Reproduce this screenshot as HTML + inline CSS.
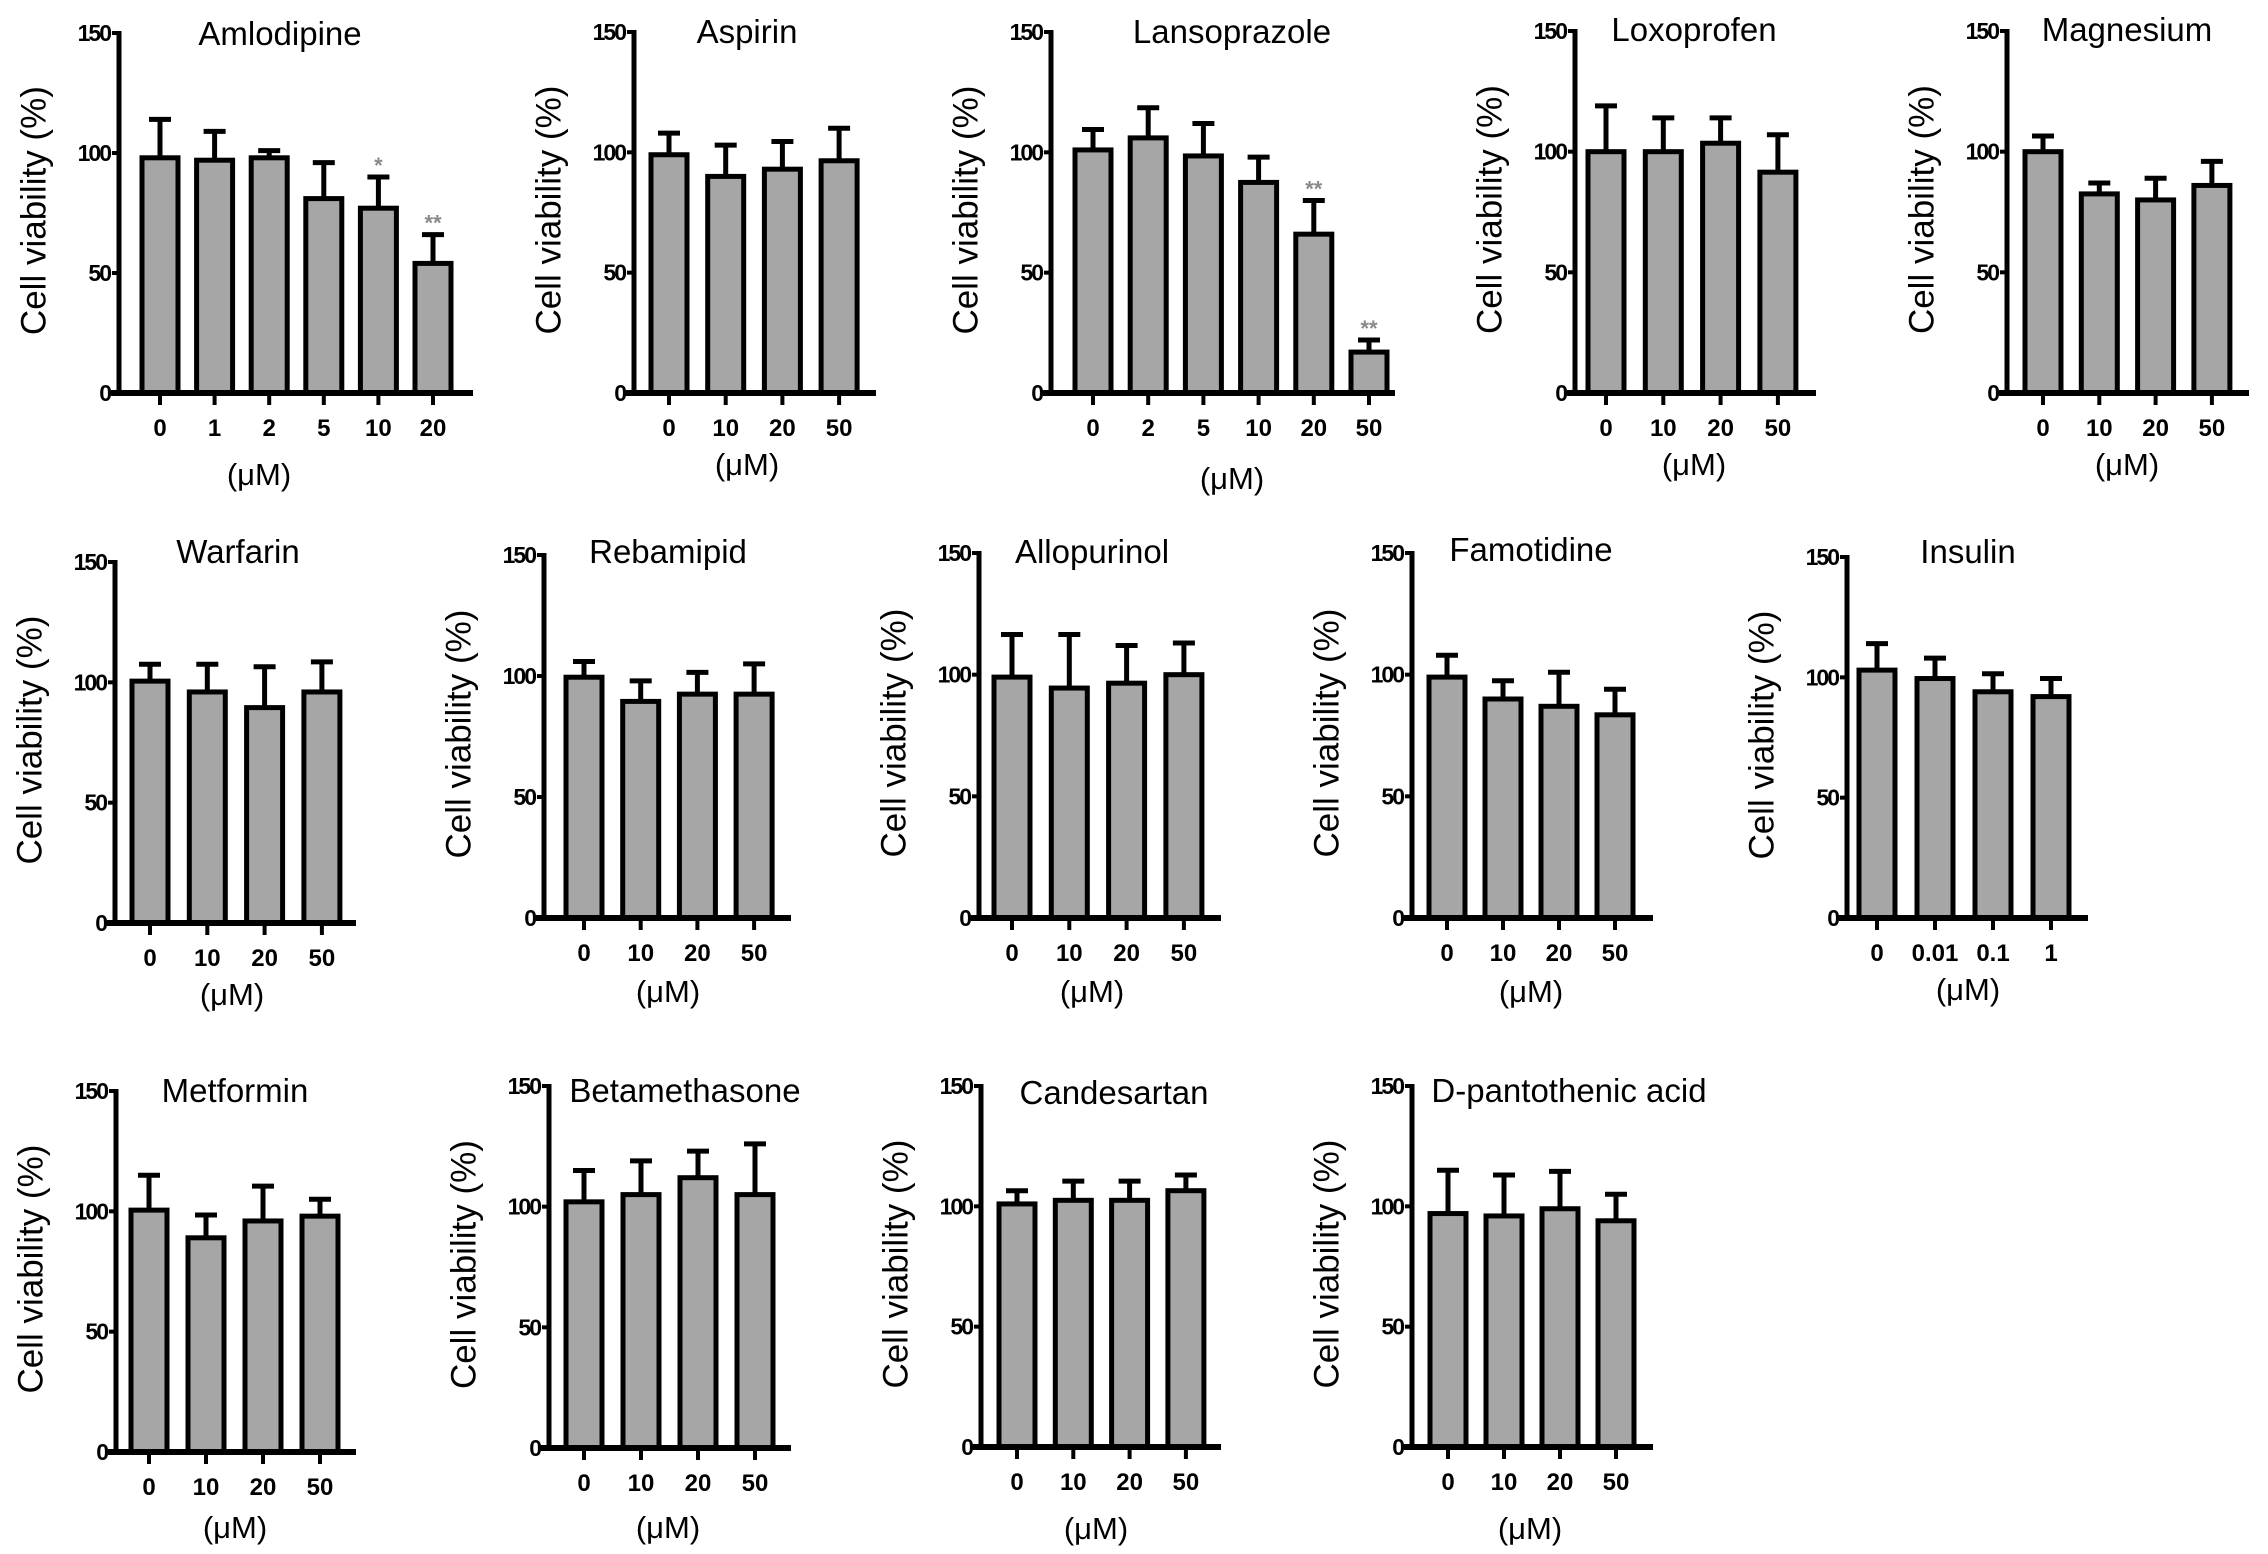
<!DOCTYPE html>
<html><head><meta charset="utf-8"><style>
html,body{margin:0;padding:0;background:#fff;}
svg{display:block;}
text{font-family:"Liberation Sans",Arial,sans-serif;fill:#000;}
</style></head><body>
<svg id="fig" width="2268" height="1554" viewBox="0 0 2268 1554" xmlns="http://www.w3.org/2000/svg"></svg>
<script>
// ---- data ----
const amlodipineDoses = ["0","1","2","5","10","20"];
const amlodipineMeans = [98,97,98,81,77,54];
const amlodipineErrTop = [114,109,101,96,90,66];
const amlodipineStars = ["","","","","*","**"];

const aspirinDoses = ["0","10","20","50"];
const aspirinMeans = [99,90,93,96.5];
const aspirinErrTop = [108,103,104.5,110];

const lansoprazoleDoses = ["0","2","5","10","20","50"];
const lansoprazoleMeans = [101,106,98.5,87.5,66,17];
const lansoprazoleErrTop = [109.5,118.5,112,98,80,22];
const lansoprazoleStars = ["","","","","**","**"];

const loxoprofenDoses = ["0","10","20","50"];
const loxoprofenMeans = [100,100,103.5,91.5];
const loxoprofenErrTop = [119,114,114,107];

const magnesiumDoses = ["0","10","20","50"];
const magnesiumMeans = [100,82.5,80,86];
const magnesiumErrTop = [106.5,87,89,96];

const warfarinDoses = ["0","10","20","50"];
const warfarinMeans = [100.5,96,89.5,96];
const warfarinErrTop = [107.5,107.5,106.5,108.5];

const rebamipidDoses = ["0","10","20","50"];
const rebamipidMeans = [99.5,89.5,92.5,92.5];
const rebamipidErrTop = [106,98,101.5,105];

const allopurinolDoses = ["0","10","20","50"];
const allopurinolMeans = [99,94.5,96.5,100];
const allopurinolErrTop = [116.5,116.5,112,113];

const famotidineDoses = ["0","10","20","50"];
const famotidineMeans = [99,90,87,83.5];
const famotidineErrTop = [108,97.5,101,94];

const insulinDoses = ["0","0.01","0.1","1"];
const insulinMeans = [103,99.5,94,92];
const insulinErrTop = [114,108,101.5,99.5];

const metforminDoses = ["0","10","20","50"];
const metforminMeans = [100.5,89,96,98];
const metforminErrTop = [115,98.5,110.5,105];

const betamethasoneDoses = ["0","10","20","50"];
const betamethasoneMeans = [102,105,112,105];
const betamethasoneErrTop = [115,119,123,126];

const candesartanDoses = ["0","10","20","50"];
const candesartanMeans = [101,102.5,102.5,106.5];
const candesartanErrTop = [106.5,110.5,110.5,113];

const pantothenicDoses = ["0","10","20","50"];
const pantothenicMeans = [97,96,99,94];
const pantothenicErrTop = [115,113,114.5,105];

const yTicks = [0,50,100,150];
const yMax = 150;

// ---- layout ----
const panels = [
 {id:"amlodipine",title:"Amlodipine",cats:amlodipineDoses,vals:amlodipineMeans,err:amlodipineErrTop,stars:amlodipineStars,ax:119,top:33,zero:393,end:473,x0:160,step:54.6,tx:280,ty:45,ux:259,uy:80},
 {id:"aspirin",title:"Aspirin",cats:aspirinDoses,vals:aspirinMeans,err:aspirinErrTop,ax:634,top:32,zero:393,end:876,x0:669,step:56.7,tx:747,ty:43,uy:70},
 {id:"lansoprazole",title:"Lansoprazole",cats:lansoprazoleDoses,vals:lansoprazoleMeans,err:lansoprazoleErrTop,stars:lansoprazoleStars,ax:1051,top:32,zero:393,end:1395,x0:1093,step:55.2,tx:1232,ty:43,uy:84},
 {id:"loxoprofen",title:"Loxoprofen",cats:loxoprofenDoses,vals:loxoprofenMeans,err:loxoprofenErrTop,ax:1575,top:31,zero:393,end:1816,x0:1606,step:57.3,tx:1694,ty:41,uy:70},
 {id:"magnesium",title:"Magnesium",cats:magnesiumDoses,vals:magnesiumMeans,err:magnesiumErrTop,ax:2007,top:31,zero:393,end:2249,x0:2043,step:56.3,tx:2127,ty:41,uy:70},
 {id:"warfarin",title:"Warfarin",cats:warfarinDoses,vals:warfarinMeans,err:warfarinErrTop,ax:115,top:562,zero:923,end:356,x0:150,step:57.3,tx:238,ty:563,ux:232,uy:70},
 {id:"rebamipid",title:"Rebamipid",cats:rebamipidDoses,vals:rebamipidMeans,err:rebamipidErrTop,ax:544,top:555,zero:918,end:791,x0:584,step:56.7,tx:668,ty:563,uy:72},
 {id:"allopurinol",title:"Allopurinol",cats:allopurinolDoses,vals:allopurinolMeans,err:allopurinolErrTop,ax:979,top:553,zero:918,end:1221,x0:1012,step:57.3,tx:1092,ty:563,uy:72},
 {id:"famotidine",title:"Famotidine",cats:famotidineDoses,vals:famotidineMeans,err:famotidineErrTop,ax:1412,top:553,zero:918,end:1653,x0:1447,step:56,tx:1531,ty:561,uy:72},
 {id:"insulin",title:"Insulin",cats:insulinDoses,vals:insulinMeans,err:insulinErrTop,ax:1847,top:557,zero:918,end:2088,x0:1877,step:58,tx:1968,ty:563,uy:70},
 {id:"metformin",title:"Metformin",cats:metforminDoses,vals:metforminMeans,err:metforminErrTop,ax:116,top:1091,zero:1452,end:356,x0:149,step:57,tx:235,ty:1102,uy:74},
 {id:"betamethasone",title:"Betamethasone",cats:betamethasoneDoses,vals:betamethasoneMeans,err:betamethasoneErrTop,ax:549,top:1086,zero:1448,end:791,x0:584,step:57,tx:685,ty:1102,ux:668,uy:78},
 {id:"candesartan",title:"Candesartan",cats:candesartanDoses,vals:candesartanMeans,err:candesartanErrTop,ax:981,top:1086,zero:1447,end:1221,x0:1017,step:56.3,tx:1114,ty:1104,ux:1096,uy:80},
 {id:"d-pantothenic-acid",title:"D-pantothenic acid",cats:pantothenicDoses,vals:pantothenicMeans,err:pantothenicErrTop,ax:1412,top:1086,zero:1447,end:1653,x0:1448,step:56,tx:1569,ty:1102,ux:1530,uy:80}
];

const NS = "http://www.w3.org/2000/svg";
const fig = document.getElementById("fig");
function mk(tag, attrs, parent){
  const e = document.createElementNS(NS, tag);
  for (const k in attrs) e.setAttribute(k, attrs[k]);
  parent.appendChild(e);
  return e;
}

panels.forEach(p => {
  const g = mk("g", {}, fig);
  
  
  const yS = v => p.zero - (v / yMax) * (p.zero - p.top);
  const xS = i => p.x0 + i * p.step;
  const bw = 36;

  p.vals.forEach((v, i) => {
    const cx = xS(i);
    const eb = mk("line", {x1:cx, x2:cx, y1:yS(v), y2:yS(p.err[i]), stroke:"#000","stroke-width":5}, g);
    
    
    const cap = mk("line", {x1:cx-11, x2:cx+11, y1:yS(p.err[i]), y2:yS(p.err[i]), stroke:"#000","stroke-width":5}, g);
    
    
    const r = mk("rect", {x:cx-bw/2, y:yS(v), width:bw, height:p.zero-yS(v), fill:"#a6a6a6", stroke:"#000","stroke-width":5}, g);
    
    
    if (p.stars && p.stars[i]) {
      const s = mk("text", {x:cx, y:yS(p.err[i]) - 4, "text-anchor":"middle", "font-size":22, "font-weight":"bold", style:"fill:#8a8a8a"}, g);
      s.textContent = p.stars[i];
      
      
    }
    const tk = mk("line", {x1:cx, x2:cx, y1:p.zero, y2:p.zero+12, stroke:"#000","stroke-width":4}, g);
    
    
    const tl = mk("text", {x:cx, y:p.zero+43, "text-anchor":"middle", "font-size":24, "font-weight":"bold"}, g);
    tl.textContent = p.cats[i];
    
    
  });

  const ya = mk("line", {x1:p.ax, x2:p.ax, y1:p.top-2, y2:p.zero+2, stroke:"#000","stroke-width":5}, g);
  
  
  const xa = mk("line", {x1:p.ax-8, x2:p.end, y1:p.zero, y2:p.zero, stroke:"#000","stroke-width":6}, g);
  
  
  yTicks.forEach(t => {
    const y = yS(t);
    const tk = mk("line", {x1:p.ax-7, x2:p.ax, y1:y, y2:y, stroke:"#000","stroke-width":4}, g);
    
    
    const tl = mk("text", {x:p.ax-9, y:y+8, "text-anchor":"end", "font-size":23, "font-weight":"bold", "letter-spacing":"-2"}, g);
    tl.textContent = t;
    
    
  });

  const tt = mk("text", {x:p.tx, y:p.ty, "text-anchor":"middle", "font-size":33}, g);
  tt.textContent = p.title;
  
  
  const ylx = p.ax - 85, yly = yS(76);
  const yl = mk("text", {x:ylx, y:yly, "text-anchor":"middle", "dominant-baseline":"central", "font-size":35, transform:"rotate(-90 " + ylx + " " + yly + ")"}, g);
  yl.textContent = "Cell viability (%)";
  
  
  const xl = mk("text", {x:(p.ux || p.tx), y:p.zero + p.uy + 12, "text-anchor":"middle", "font-size":31}, g);
  xl.textContent = "(μM)";
  
  
});
</script>
</body></html>
